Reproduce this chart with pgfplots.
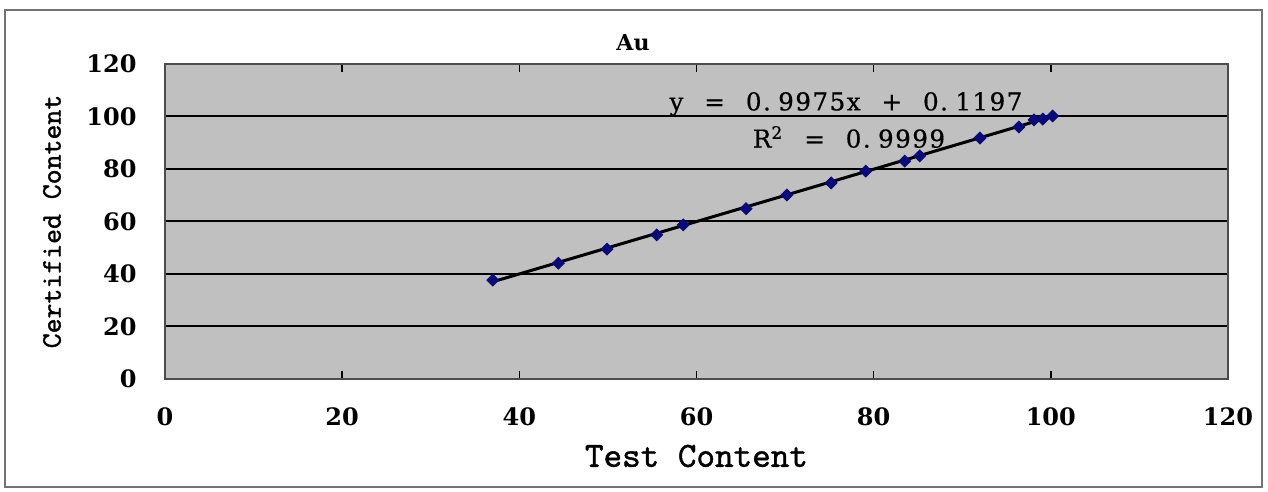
\documentclass[border=0pt]{standalone}
\usepackage{pgfplots}
\pgfplotsset{compat=1.18}
\usepackage{fontspec}
\setmainfont{DejaVu Serif}
\newfontfamily\eqf{DejaVu Serif}[LetterSpace=6, FakeBold=0.6]
\newfontfamily\labf{lmmono10-regular.otf}[FakeBold=1.2]
\definecolor{plotgray}{RGB}{192,192,192}
\definecolor{navy}{RGB}{10,10,120}
\newcommand{\gapsp}{\hspace{0.85em}}
\newcommand{\dgap}{\hspace{0.3em}}
\begin{document}
\begin{tikzpicture}
\path[use as bounding box] (-82.5pt,-56.5pt) rectangle (551.5pt,189.5pt);
\draw[line width=1pt, color=black!55] (-80pt,-54pt) rectangle (548.5pt,184.5pt);
\begin{axis}[
  at={(0pt,0pt)}, anchor=south west,
  scale only axis, width=531.5pt, height=157.5pt,
  xmin=0, xmax=120, ymin=0, ymax=120,
  xtick={0,20,...,120}, ytick={0,20,...,120},
  axis background/.style={fill=plotgray},
  axis line style={line width=0.9pt, color=black!70},
  ymajorgrids, grid style={line width=1pt, color=black},
  tick align=inside, major tick length=4pt,
  tick style={line width=0.7pt, color=black},
  ytick style={draw=none},
  /pgf/number format/assume math mode=true,
  ticklabel style={font=\fontsize{12}{14}\selectfont\bfseries, inner sep=0pt},
  xticklabel style={anchor=center, yshift=-18.75pt},
  yticklabel style={anchor=east, xshift=-14pt},
  clip=false,
]
\addplot[only marks, mark=square*, mark size=2.1pt, mark options={rotate=45}, color=navy] coordinates {
(37.0,37.7) (44.4,44.1) (49.9,49.5) (55.5,54.9) (58.5,58.7) (65.6,64.9)
(70.2,70.1) (75.2,74.7) (79.1,79.2) (83.5,83.0) (85.2,85.0) (92.0,91.8)
(96.4,96.0) (98.1,98.7) (99.1,99.0) (100.2,100.2)
};
\addplot[line width=1.5pt, color=black] coordinates {(37.0,37.03) (100.2,100.07)};
\end{axis}
\node[font=\fontsize{11}{13}\selectfont\bfseries] at (234pt,168pt) {Au};
\node[font=\labf\fontsize{17.7}{20}\selectfont] at (265.75pt,-38.5pt) {Test Content};
\node[font=\labf\fontsize{14.2}{16}\selectfont, rotate=90] at (-56.5pt,78.75pt) {Certified Content};
\node[font=\eqf\fontsize{12.3}{14}\selectfont] at (340.5pt,137.5pt) {y\gapsp=\gapsp0.\dgap9975x\gapsp+\gapsp0.\dgap1197};
\node[font=\eqf\fontsize{12.3}{14}\selectfont] at (342pt,121pt) {R\textsuperscript{2}\gapsp=\gapsp0.\dgap9999};
\end{tikzpicture}
\end{document}
